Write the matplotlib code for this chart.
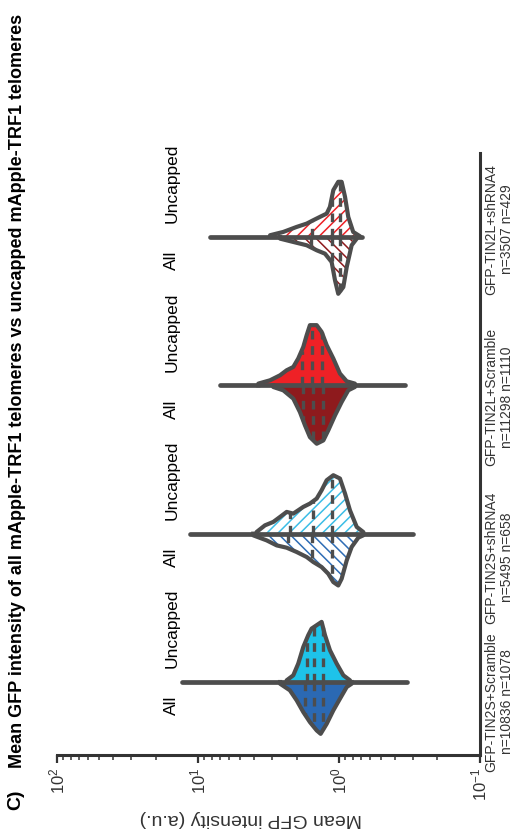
import numpy as np
import matplotlib
matplotlib.use('Agg')
import matplotlib.pyplot as plt
from matplotlib import font_manager
from matplotlib.patches import Polygon

groups = ['GFP-TIN2S+Scramble', 'GFP-TIN2S+shRNA4', 'GFP-TIN2L+Scramble', 'GFP-TIN2L+shRNA4']
n_all = [10836, 5495, 11298, 3507]
n_uncapped = [1078, 658, 1110, 429]
halves = ['All', 'Uncapped']
title = 'Mean GFP intensity of all mApple-TRF1 telomeres vs uncapped mApple-TRF1 telomeres'
value_label = 'Mean GFP intensity (a.u.)'

# violin outlines: log10(intensity) and half width
all_log = [
    [0.418, 0.348, 0.300, 0.253, 0.206, 0.158, 0.130, 0.087, 0.040, -0.007, -0.055, -0.090],
    [0.608, 0.513, 0.442, 0.371, 0.300, 0.229, 0.182, 0.123, 0.076, 0.040, 0.005, -0.019, -0.055, -0.090, -0.137, -0.172],
    [0.466, 0.395, 0.324, 0.277, 0.241, 0.206, 0.158, 0.111, 0.076, 0.028, -0.019, -0.066, -0.113],
    [0.418, 0.324, 0.229, 0.158, 0.099, 0.052, 0.028, 0.005, -0.031, -0.055, -0.090, -0.126],
]
all_dens = [
    [1.7, 8.3, 18.3, 30, 40, 48.3, 51.7, 41.7, 28.3, 16.7, 5, 1.7],
    [1.7, 6.7, 11.7, 14, 18.3, 23.3, 28.3, 33.3, 40, 48.3, 51.7, 45, 26.7, 13.3, 4, 1.7],
    [1.7, 5, 13.3, 26.7, 40, 51.7, 58.3, 55, 45, 30, 16.7, 5, 1.7],
    [1.7, 5, 8.3, 13.3, 16.7, 25, 43.3, 56.7, 50, 30, 8.3, 1.7],
]
unc_log = [
    [0.371, 0.324, 0.289, 0.253, 0.218, 0.194, 0.158, 0.123, 0.099, 0.064, 0.016, -0.031, -0.078],
    [0.584, 0.525, 0.466, 0.418, 0.371, 0.324, 0.289, 0.253, 0.206, 0.158, 0.123, 0.087, 0.040, -0.007, -0.043, -0.078, -0.126, -0.172],
    [0.572, 0.489, 0.418, 0.371, 0.324, 0.289, 0.253, 0.229, 0.206, 0.158, 0.123, 0.087, 0.040, -0.007, -0.055, -0.113],
    [0.489, 0.395, 0.300, 0.229, 0.182, 0.135, 0.087, 0.064, 0.040, 0.005, -0.019, -0.043, -0.066, -0.101, -0.149],
]
unc_dens = [
    [1.7, 6.7, 18.3, 35, 46.7, 53.3, 56.7, 60, 46.7, 31.7, 18.3, 6.7, 1.7],
    [1.7, 8.3, 11.7, 16.7, 21.7, 20, 23.3, 26.7, 30, 35, 43.3, 53.3, 58.3, 55, 40, 23.3, 6.7, 1.7],
    [1.7, 5, 10, 15, 18.3, 26.7, 38.3, 50, 60, 60, 53.3, 40, 26.7, 11.7, 4, 1.7],
    [1.7, 5, 10, 13.3, 16.7, 20, 23.3, 30, 46.7, 55, 55, 40, 20, 5, 0.7],
]
# quartiles (log10)
all_quart = [[0.241, 0.177, 0.111], [0.360, 0.194, 0.052], [0.253, 0.182, 0.111], [0.200, 0.052, -0.007]]
unc_quart = [[0.229, 0.177, 0.116], [0.348, 0.182, 0.048], [0.265, 0.194, 0.123], [0.194, 0.052, -0.007]]
# full range of each group (log10 min, max)
tail_log = [(-0.482, 1.113), (-0.527, 1.057), (-0.468, 0.844), (-0.161, 0.915)]

col_all = ['#2b69b3', '#2f6db5', '#8e1a1d', '#8e1a1d']
col_unc = ['#1ec3ea', '#3bbde6', '#ee2126', '#ee2126']
hatched = [False, True, False, True]
outline = '#4d4d4d'
wscale = 1 / 148.0

names = {f.name for f in font_manager.fontManager.ttflist}
base_font = 'Liberation Sans' if 'Liberation Sans' in names else 'DejaVu Sans'
narrow_font = 'Liberation Sans Narrow' if 'Liberation Sans Narrow' in names else base_font
plt.rcParams['font.family'] = [base_font, 'DejaVu Sans']
plt.rcParams['mathtext.default'] = 'regular'
plt.rcParams['hatch.linewidth'] = 1.1


def draw_half(ax, pos, logs, dens, sign, color, hatch, quart):
    logs = np.asarray(logs)
    dens = np.asarray(dens)
    x = 10 ** logs
    y = pos + sign * dens * wscale
    xs = np.r_[x[0], x, x[-1]]
    ys = np.r_[pos, y, pos]
    if hatch:
        ax.add_patch(Polygon(np.column_stack([xs, ys]), closed=True, facecolor='white',
                             edgecolor=color, hatch=hatch, lw=0, zorder=2))
    else:
        ax.add_patch(Polygon(np.column_stack([xs, ys]), closed=True, facecolor=color,
                             lw=0, zorder=2))
    for q in quart:
        h = np.interp(q, logs[::-1], dens[::-1]) * wscale * sign
        ax.plot([10 ** q, 10 ** q], [pos, pos + h], color=outline, lw=2.4,
                ls=(0, (2.6, 2.0)), dash_capstyle='butt', zorder=3)
    ax.plot(xs, ys, color=outline, lw=3.0, solid_joinstyle='round', zorder=4)


fig = plt.figure(figsize=(5.17, 8.35), dpi=100)
ax = fig.add_axes([0.1103, 0.0958, 0.818, 0.721])

for i in range(len(groups)):
    lo, hi = tail_log[i]
    ax.plot([10 ** lo, 10 ** hi], [i, i], color=outline, lw=3.4,
            solid_capstyle='round', zorder=5)
    draw_half(ax, i, all_log[i], all_dens[i], -1, col_all[i],
              '\\\\\\' if hatched[i] else None, all_quart[i])
    draw_half(ax, i, unc_log[i], unc_dens[i], 1, col_unc[i],
              '///' if hatched[i] else None, unc_quart[i])
    ax.text(15.3, i - 0.16, halves[0], rotation=90, ha='center', va='center', fontsize=12.5)
    ax.text(15.3, i + 0.36, halves[1], rotation=90, ha='center', va='center', fontsize=12.5)

ax.set_xscale('log')
ax.set_xlim(100, 0.1)
ax.set_ylim(-0.492, 3.566)

for s in ['top', 'left']:
    ax.spines[s].set_visible(False)
ax.spines['bottom'].set_linewidth(2.2)
ax.spines['right'].set_linewidth(2.2)
ax.spines['bottom'].set_color('#333333')
ax.spines['right'].set_color('#333333')

ax.tick_params(axis='x', which='major', direction='out', length=6, width=1.6,
               labelrotation=90, labelsize=12, colors='#333333', pad=3)
ax.tick_params(axis='x', which='minor', direction='out', length=3.5, width=1.1, colors='#333333')

label_pos = [-0.135, 0.84, 1.92, 3.05]
ax.yaxis.tick_right()
ax.set_yticks(label_pos)
ax.set_yticklabels([f'{g}\nn={a} n={u}' for g, a, u in zip(groups, n_all, n_uncapped)],
                   rotation=90, va='center', ha='left', multialignment='center',
                   fontsize=10, family=[narrow_font, 'DejaVu Sans'], color='#333333')
ax.tick_params(axis='y', length=0, pad=3)

fig.text(251 / 517, 1 - 818 / 835, value_label, rotation=180, ha='center', va='center',
         fontsize=14, color='#333333')
fig.text(18 / 517, 1 - 391 / 835, title, rotation=90, ha='center', va='center',
         fontsize=13, fontweight='bold', family=[narrow_font, 'DejaVu Sans'])
fig.text(16 / 517, 1 - 790 / 835, 'C)', rotation=90, ha='center', va='top',
         fontsize=14, fontweight='bold', family=[narrow_font, 'DejaVu Sans'])

fig.savefig('out.png', dpi=100)
